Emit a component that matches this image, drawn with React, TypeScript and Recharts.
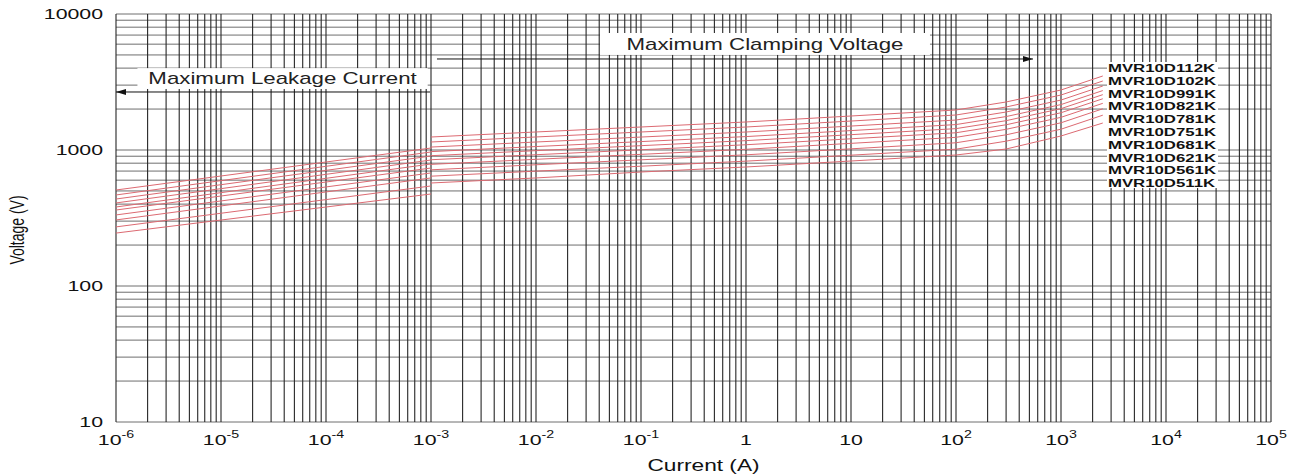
import React from "react";
import { ComposedChart, Line, XAxis, YAxis, CartesianGrid, ReferenceArea, ReferenceLine } from "recharts";

// ---------- data ----------
const modelNames = [
  "MVR10D112K", "MVR10D102K", "MVR10D991K", "MVR10D821K", "MVR10D781K",
  "MVR10D751K", "MVR10D681K", "MVR10D621K", "MVR10D561K", "MVR10D511K",
];

// Maximum leakage current region (A)
const leakageCurrent = [1e-6, 1e-3];
const leakageVoltAt1uA = [508, 467, 436, 408, 381, 362, 333, 306, 272, 245];
const leakageVoltAt1mA = [1034, 967, 903, 844, 789, 737, 678, 623, 544, 475];

// Maximum clamping voltage region (A)
const clampCurrent = [1e-3, 1e-2, 1e-1, 1, 10, 100, 300, 1000, 2500];
const clamp112K = [1246, 1357, 1476, 1607, 1778, 1969, 2254, 2762, 3501];
const clamp102K = [1145, 1247, 1356, 1476, 1633, 1809, 2071, 2537, 3216];
const clamp991K = [1051, 1145, 1245, 1356, 1500, 1661, 1902, 2330, 2954];
const clamp821K = [973, 1060, 1153, 1255, 1389, 1538, 1761, 2158, 2735];
const clamp781K = [908, 989, 1076, 1172, 1296, 1436, 1643, 2014, 2553];
const clamp751K = [848, 923, 1004, 1093, 1209, 1339, 1533, 1879, 2381];
const clamp681K = [784, 854, 929, 1012, 1119, 1239, 1419, 1739, 2204];
const clamp621K = [715, 779, 847, 922, 1020, 1130, 1293, 1585, 2009];
const clamp561K = [642, 699, 760, 828, 916, 1014, 1161, 1422, 1803];
const clamp511K = [572, 623, 689, 750, 830, 919, 1017, 1268, 1579];
const clampSets = [clamp112K, clamp102K, clamp991K, clamp821K, clamp781K, clamp751K, clamp681K, clamp621K, clamp561K, clamp511K];

// axis ticks / labels
const xDecades = [1e-6, 1e-5, 1e-4, 1e-3, 1e-2, 1e-1, 1, 10, 100, 1000, 1e4, 1e5];
const xDecadeBase = ["10", "10", "10", "10", "10", "10", "1", "10", "10", "10", "10", "10"];
const xDecadeExp = ["-6", "-5", "-4", "-3", "-2", "-1", "", "", "2", "3", "4", "5"];
const yDecades = [10, 100, 1000, 10000];
const yDecadeLabels = ["10", "100", "1000", "10000"];
const minorSteps = [1, 2, 3, 4, 5, 6, 7, 8, 9];

const xTicks = xDecades.slice(0, -1).flatMap((d) => minorSteps.map((m) => m * d)).concat([xDecades[xDecades.length - 1]]);
const yTicks = yDecades.slice(0, -1).flatMap((d) => minorSteps.map((m) => m * d)).concat([yDecades[yDecades.length - 1]]);

const leakageSeries = modelNames.map((_, k) =>
  leakageCurrent.map((i, j) => ({ i, v: j === 0 ? leakageVoltAt1uA[k] : leakageVoltAt1mA[k] }))
);
const clampSeries = clampSets.map((vals) => clampCurrent.map((i, j) => ({ i, v: vals[j] })));

// ---------- style ----------
const FONT = "'Liberation Sans', Arial, sans-serif";
const STRETCH = 1.42;
const RED = "#dc6a72";
const TEXT = "#111";

const sameDecade = (a: number, b: number) => Math.abs(Math.log10(a) - Math.log10(b)) < 1e-6;

const XTick = (props: any) => {
  const { x, y, payload } = props;
  const idx = xDecades.findIndex((d) => sameDecade(d, payload.value));
  if (idx < 0) return <g />;
  return (
    <g transform={`translate(${x},${y + 23}) scale(${STRETCH},1)`}>
      <text x={0} y={0} textAnchor="middle" fontFamily={FONT} fontSize={15} fill={TEXT}>
        {xDecadeBase[idx]}
        {xDecadeExp[idx] ? (
          <tspan dy={-7} fontSize={10}>
            {xDecadeExp[idx]}
          </tspan>
        ) : null}
      </text>
    </g>
  );
};

const YTick = (props: any) => {
  const { x, y, payload } = props;
  const idx = yDecades.findIndex((d) => sameDecade(d, payload.value));
  if (idx < 0) return <g />;
  return (
    <g transform={`translate(${x - 13},${y}) scale(${STRETCH},1)`}>
      <text x={0} y={0} dy="0.36em" textAnchor="end" fontFamily={FONT} fontSize={15} fill={TEXT}>
        {yDecadeLabels[idx]}
      </text>
    </g>
  );
};

const boxWithText = (label: string, dx: number) => (p: any) => {
  const { x, y, width, height } = p;
  return (
    <g>
      <rect x={x} y={y} width={width} height={height} fill="#fff" stroke="none" />
      <g transform={`translate(${x + width / 2 + dx},${y + height / 2}) scale(${STRETCH * 0.98},1)`}>
        <text x={0} y={0} dy="0.36em" textAnchor="middle" fontFamily={FONT} fontSize={16} fill="#222">
          {label}
        </text>
      </g>
    </g>
  );
};

const legendBox = (p: any) => {
  const { x, y, width, height } = p;
  return (
    <g>
      <rect x={x} y={y} width={width} height={height} fill="#fff" stroke="none" />
      {modelNames.map((n, k) => (
        <g key={n} transform={`translate(${x + 1},${y + 10 + k * 12.8}) scale(${STRETCH},1)`}>
          <text x={0} y={0} fontFamily={FONT} fontSize={11.8} fontWeight="bold" fill="#111">
            {n}
          </text>
        </g>
      ))}
    </g>
  );
};

const arrow = (p: any) => {
  const { x1, y1, x2, y2 } = p;
  const dir = x2 < x1 ? 1 : -1;
  return (
    <g>
      <line x1={x1} y1={y1} x2={x2} y2={y2} stroke="#111" strokeWidth={1} />
      <polygon points={`${x2},${y2} ${x2 + dir * 10},${y2 - 3} ${x2 + dir * 10},${y2 + 3}`} fill="#111" />
    </g>
  );
};

const yTitle = (p: any) => {
  const vb = p.viewBox || { x: 0, y: 14, width: 116, height: 408 };
  const cx = 17;
  const cy = vb.y + vb.height / 2 + 12;
  return (
    <g transform={`translate(${cx},${cy}) scale(${STRETCH},1) rotate(-90)`}>
      <text x={0} y={0} dy="0.36em" textAnchor="middle" fontFamily={FONT} fontSize={14} fill={TEXT}>
        Voltage (V)
      </text>
    </g>
  );
};

const xTitle = (p: any) => {
  const vb = p.viewBox || { x: 116, y: 422, width: 1155, height: 53 };
  const cx = vb.x + vb.width / 2 + 10;
  const cy = vb.y + 49;
  return (
    <g transform={`translate(${cx},${cy}) scale(${STRETCH},1)`}>
      <text x={0} y={0} textAnchor="middle" fontFamily={FONT} fontSize={16} fill={TEXT}>
        Current (A)
      </text>
    </g>
  );
};

export default function App() {
  return (
    <div style={{ position: "absolute", left: 0, top: 0, width: 1304, height: 475, background: "#fff" }}>
      <ComposedChart width={1304} height={475} margin={{ top: 14, right: 33, left: 0, bottom: 0 }}>
        <CartesianGrid horizontal={true} vertical={false} stroke="#6e6e6e" strokeWidth={1} fill="none" />
        <CartesianGrid horizontal={false} vertical={true} stroke="#262626" strokeWidth={1.1} fill="none" />
        <XAxis
          dataKey="i"
          type="number"
          scale="log"
          domain={[1e-6, 1e5]}
          ticks={xTicks}
          interval={0}
          axisLine={false}
          tickLine={false}
          tickSize={0}
          tickMargin={0}
          height={53}
          tick={<XTick />}
          allowDataOverflow
          label={{ content: xTitle }}
        />
        <YAxis
          dataKey="v"
          type="number"
          scale="log"
          domain={[10, 10000]}
          ticks={yTicks}
          interval={0}
          axisLine={false}
          tickLine={false}
          tickSize={0}
          tickMargin={0}
          width={116}
          tick={<YTick />}
          allowDataOverflow
          label={{ content: yTitle }}
        />
        {leakageSeries.map((d, k) => (
          <Line
            key={"leak" + k}
            data={d}
            dataKey="v"
            type="linear"
            stroke={RED}
            strokeWidth={1}
            dot={false}
            activeDot={false}
            isAnimationActive={false}
          />
        ))}
        {clampSeries.map((d, k) => (
          <Line
            key={"clamp" + k}
            data={d}
            dataKey="v"
            type="linear"
            stroke={RED}
            strokeWidth={1}
            dot={false}
            activeDot={false}
            isAnimationActive={false}
          />
        ))}
        <ReferenceArea x1={1.6e-6} x2={9.3e-4} y1={2810} y2={4000} shape={boxWithText("Maximum Leakage Current", 0)} ifOverflow="visible" />
        <ReferenceArea x1={0.0407} x2={56.5} y1={5000} y2={7250} shape={boxWithText("Maximum Clamping Voltage", 0)} ifOverflow="visible" />
        <ReferenceArea x1={2742} x2={31270} y1={525} y2={4436} shape={legendBox} ifOverflow="visible" />
        <ReferenceLine segment={[{ x: 9.8e-4, y: 2670 }, { x: 1e-6, y: 2670 }]} shape={arrow} ifOverflow="visible" />
        <ReferenceLine segment={[{ x: 1.14e-3, y: 4670 }, { x: 541, y: 4670 }]} shape={arrow} ifOverflow="visible" />
      </ComposedChart>
    </div>
  );
}
